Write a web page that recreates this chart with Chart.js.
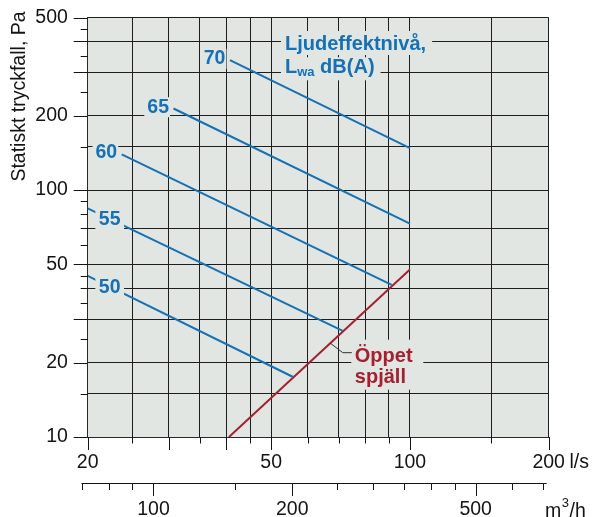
<!DOCTYPE html>
<html lang="sv">
<head>
  <meta charset="UTF-8" />
  <title>Statiskt tryckfall</title>
  <script src="https://cdn.jsdelivr.net/npm/chart.js"></script>
  <style>
    html, body { margin: 0; padding: 0; background: #fff; }
    #wrap { width: 593px; height: 517px; }
  </style>
</head>
<body>
<div id="wrap"><canvas id="chart" width="593" height="517"></canvas></div>
<script>
  // Axes (l/s and Pa)
  const xGrid = [20, 25, 30, 35, 40, 45, 50, 60, 70, 80, 90, 100, 150, 200];
  const xLongTicks = [20, 30, 40, 50, 100, 200];
  const xLabels = [20, 50, 100, 200];

  const yGrid = [10, 15, 20, 30, 40, 50, 70, 100, 150, 200, 300, 400, 500];
  const yLongTicks = [10, 20, 30, 50, 100, 200, 300, 400, 500];
  const yShortTicks = [15, 25, 35, 40, 45, 60, 70, 80, 90, 150, 250, 350, 450];
  const yLabels = [10, 20, 50, 100, 200, 500];

  // Second flow axis, m3/h
  const m3hMajor = [100, 200, 500];
  const m3hMinor = [70, 80, 90, 150, 250, 300, 350, 400, 450, 600, 700];

  // Sound power level lines, Lwa dB(A)
  const lwaLevels = ['50', '55', '60', '65', '70'];
  const lwaFlowStart = [20, 20, 23.7, 30.7, 40.7];
  const lwaPaStart = [44.9, 84.3, 139.6, 214, 336];
  const lwaFlowEnd = [55.8, 71.5, 91.3, 100, 100];
  const lwaPaEnd = [17.5, 26.9, 41.3, 73.1, 148];

  // Open damper
  const damperFlow = [40.5, 100];
  const damperPa = [10, 47.7];

  const FONT = "'Liberation Sans', Arial, Helvetica, sans-serif";
  const BLUE = '#1570b4';
  const RED = '#a3202e';
  const PLOT_BG = '#e1e6e3';
  const INK = '#141414';
  const GRID = '#1e1e1e';

  Chart.defaults.font.family = FONT;
  Chart.defaults.color = INK;

  const yTickValues = [...new Set(yGrid.concat(yShortTicks, yLongTicks))].sort((a, b) => a - b);

  const isoSets = lwaLevels.map((lvl, i) => ({
    label: lvl,
    data: [{x: lwaFlowStart[i], y: lwaPaStart[i]}, {x: lwaFlowEnd[i], y: lwaPaEnd[i]}],
    borderColor: BLUE,
    borderWidth: 2,
    pointRadius: 0,
    showLine: true
  }));

  const damperSet = {
    label: 'Öppet spjäll',
    data: damperFlow.map((f, i) => ({x: f, y: damperPa[i]})),
    borderColor: RED,
    borderWidth: 2,
    pointRadius: 0,
    showLine: true
  };

  function boxedText(ctx, text, x, y, align, color, padL, padR, padV) {
    const w = ctx.measureText(text).width;
    const left = align === 'right' ? x - w : (align === 'center' ? x - w / 2 : x);
    ctx.fillStyle = PLOT_BG;
    ctx.fillRect(left - padL, y - padV, w + padL + padR, padV * 2);
    ctx.fillStyle = color;
    ctx.textAlign = align;
    ctx.textBaseline = 'middle';
    ctx.fillText(text, x, y);
  }

  const plotBg = {
    id: 'plotBg',
    beforeDraw(chart) {
      const {ctx, chartArea: a} = chart;
      ctx.save();
      ctx.fillStyle = PLOT_BG;
      ctx.fillRect(a.left, a.top, a.right - a.left, a.bottom - a.top);
      ctx.restore();
    }
  };

  const annotations = {
    id: 'annotations',
    afterDatasetsDraw(chart) {
      const {ctx, chartArea: a} = chart;
      const xs = chart.scales.x, ys = chart.scales.y;
      ctx.save();

      // level numbers on the blue lines
      ctx.font = 'bold 19.5px ' + FONT;
      lwaLevels.forEach((lvl, i) => {
        const x0 = xs.getPixelForValue(lwaFlowStart[i]), y0 = ys.getPixelForValue(lwaPaStart[i]);
        const x1 = xs.getPixelForValue(lwaFlowEnd[i]), y1 = ys.getPixelForValue(lwaPaEnd[i]);
        if (lwaFlowStart[i] <= xs.min) {
          const cx = a.left + 22;
          const cy = y0 + (y1 - y0) * (cx - x0) / (x1 - x0) + 1;
          boxedText(ctx, lvl, cx, cy, 'center', BLUE, 3.5, 3.5, 10);
        } else {
          boxedText(ctx, lvl, x0 - 4.5, y0 - 1.3, 'right', BLUE, 3, 1, 10);
        }
      });

      // legend title
      const tx = a.left + 197.3, ty1 = a.top + 32.5, ty2 = a.top + 55.8;
      ctx.font = 'bold 20px ' + FONT;
      const w1 = ctx.measureText('Ljudeffektnivå,').width;
      const wL = ctx.measureText('L').width;
      const wD = ctx.measureText(' dB(A)').width;
      ctx.font = 'bold 13px ' + FONT;
      const wSub = ctx.measureText('wa').width;
      ctx.fillStyle = PLOT_BG;
      ctx.fillRect(tx - 4, ty1 - 19, w1 + 10, 24);
      ctx.fillRect(tx - 4, ty2 - 16, wL + wSub + wD + 10, 23);
      ctx.fillStyle = BLUE;
      ctx.textAlign = 'left';
      ctx.textBaseline = 'alphabetic';
      ctx.font = 'bold 20px ' + FONT;
      ctx.fillText('Ljudeffektnivå,', tx, ty1);
      ctx.fillText('L', tx, ty2);
      ctx.fillText(' dB(A)', tx + wL + wSub, ty2);
      ctx.font = 'bold 13px ' + FONT;
      ctx.fillText('wa', tx + wL, ty2 + 3);

      // open damper label with leader
      const p0x = xs.getPixelForValue(damperFlow[0]), p0y = ys.getPixelForValue(damperPa[0]);
      const p1x = xs.getPixelForValue(damperFlow[1]), p1y = ys.getPixelForValue(damperPa[1]);
      const sx = p0x + (p1x - p0x) * 0.56, sy = p0y + (p1y - p0y) * 0.56;
      ctx.fillStyle = PLOT_BG;
      ctx.fillRect(sx + 21, sy - 3.5, 72, 50);
      ctx.strokeStyle = '#333';
      ctx.lineWidth = 1;
      ctx.beginPath();
      ctx.moveTo(sx, sy);
      ctx.lineTo(sx + 12.5, sy + 9.5);
      ctx.lineTo(sx + 21.5, sy + 9.5);
      ctx.stroke();
      ctx.fillStyle = RED;
      ctx.font = 'bold 20px ' + FONT;
      ctx.fillText('Öppet', sx + 24.5, sy + 19.3);
      ctx.fillText('spjäll', sx + 24.5, sy + 40);

      ctx.restore();
    },
    afterDraw(chart) {
      const {ctx, chartArea: a} = chart;
      const xs = chart.scales.x, ys = chart.scales.y;
      ctx.save();
      ctx.strokeStyle = INK;
      ctx.lineWidth = 1;
      ctx.beginPath();
      // tick marks on the l/s axis
      xGrid.forEach(v => {
        const px = Math.round(xs.getPixelForValue(v)) + 0.5;
        ctx.moveTo(px, a.bottom);
        ctx.lineTo(px, a.bottom + (xLongTicks.includes(v) ? 13 : 6.5));
      });
      // tick marks on the Pa axis
      yLongTicks.concat(yShortTicks).forEach(v => {
        const py = Math.round(ys.getPixelForValue(v)) + 0.5;
        ctx.moveTo(a.left, py);
        ctx.lineTo(a.left - (yLongTicks.includes(v) ? 14 : 7), py);
      });
      // m3/h axis
      const base = Math.round(a.bottom + 46.3) + 0.5;
      const m3px = v => xs.getPixelForValue(v / 3.6);
      ctx.moveTo(m3px(m3hMinor[0]) - 0.5, base);
      ctx.lineTo(m3px(720) - 2, base);
      m3hMinor.forEach(v => {
        const px = Math.round(m3px(v)) + 0.5;
        ctx.moveTo(px, base);
        ctx.lineTo(px, base + 6.5);
      });
      m3hMajor.forEach(v => {
        const px = Math.round(m3px(v)) + 0.5;
        ctx.moveTo(px, base);
        ctx.lineTo(px, base + 12.5);
      });
      ctx.stroke();

      ctx.fillStyle = INK;
      ctx.font = '19.5px ' + FONT;
      ctx.textAlign = 'center';
      ctx.textBaseline = 'alphabetic';
      m3hMajor.forEach(v => ctx.fillText(String(v), m3px(v), base + 31.5));

      // units
      ctx.textAlign = 'left';
      const w200 = ctx.measureText('200').width;
      ctx.textBaseline = 'middle';
      ctx.fillText('l/s', xs.getPixelForValue(200) + w200 / 2 + 4.5, a.bottom + 25.5);
      ctx.textBaseline = 'alphabetic';
      const mx = a.left + 457.3;
      ctx.fillText('m', mx, base + 33);
      const wm = ctx.measureText('m').width;
      ctx.font = '13px ' + FONT;
      ctx.fillText('3', mx + wm + 0.5, base + 23.5);
      const w3 = ctx.measureText('3').width;
      ctx.font = '19.5px ' + FONT;
      ctx.fillText('/h', mx + wm + w3 + 1, base + 33);

      // y axis title
      ctx.translate(19.5, 96.5);
      ctx.rotate(-Math.PI / 2);
      ctx.textAlign = 'center';
      ctx.textBaseline = 'middle';
      ctx.fillText('Statiskt tryckfall, Pa', 0, 0);
      ctx.restore();
    }
  };

  new Chart(document.getElementById('chart'), {
    type: 'scatter',
    data: { datasets: [...isoSets, damperSet] },
    options: {
      responsive: false,
      animation: false,
      layout: { padding: { top: 17.5, right: 44.3, left: 0, bottom: 0 } },
      plugins: {
        legend: { display: false },
        tooltip: { enabled: false }
      },
      scales: {
        x: {
          type: 'logarithmic',
          min: 20,
          max: 200,
          afterBuildTicks: scale => { scale.ticks = xGrid.map(v => ({ value: v })); },
          afterFit: scale => { scale.height = 80; },
          grid: { color: GRID, lineWidth: 1, drawTicks: false },
          border: { display: true, color: '#2a2a2a', width: 1 },
          ticks: {
            autoSkip: false,
            maxRotation: 0,
            padding: 14,
            font: { size: 19.5 },
            color: INK,
            callback: v => xLabels.includes(v) ? String(v) : ''
          }
        },
        y: {
          type: 'logarithmic',
          min: 10,
          max: 500,
          afterBuildTicks: scale => { scale.ticks = yTickValues.map(v => ({ value: v })); },
          afterFit: scale => { scale.width = 87.7; },
          grid: {
            color: c => (c.tick && yGrid.includes(c.tick.value)) ? GRID : 'rgba(0,0,0,0)',
            lineWidth: 1,
            drawTicks: true,
            tickLength: 14,
            tickColor: 'rgba(0,0,0,0)'
          },
          border: { display: true, color: '#2a2a2a', width: 1 },
          ticks: {
            autoSkip: false,
            padding: 5.8,
            font: { size: 19.5 },
            color: INK,
            callback: v => yLabels.includes(v) ? String(v) : ''
          }
        }
      }
    },
    plugins: [plotBg, annotations]
  });
</script>
</body>
</html>
